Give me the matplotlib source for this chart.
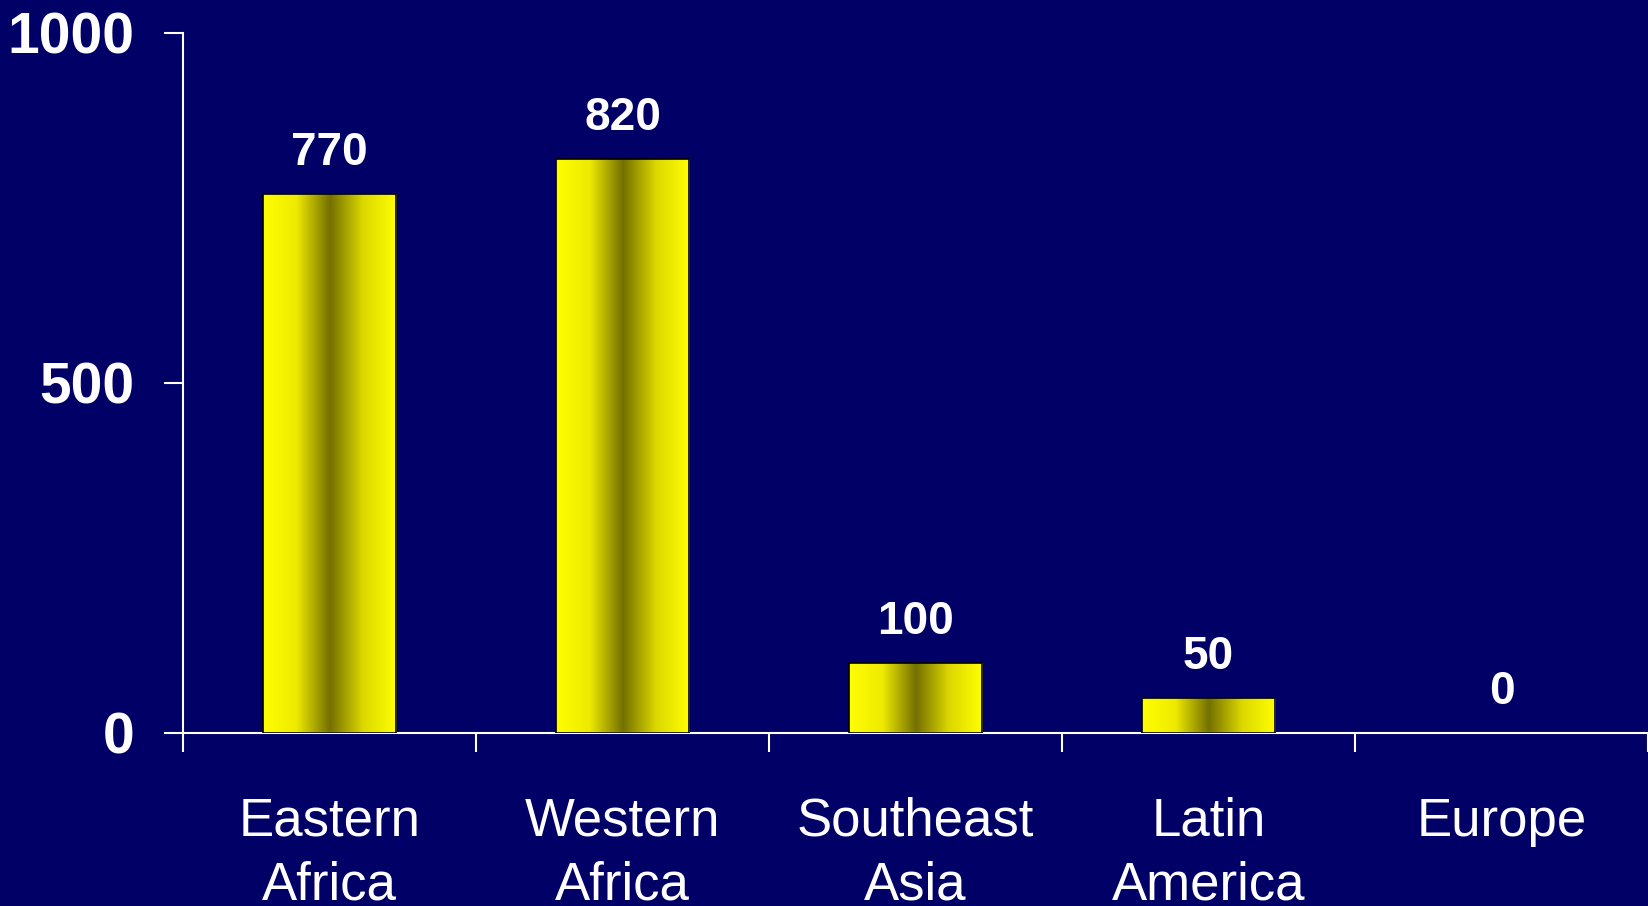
import matplotlib
matplotlib.use("Agg")
import matplotlib.pyplot as plt
import numpy as np
from matplotlib.colors import LinearSegmentedColormap

plt.rcParams["font.family"] = ["Liberation Sans", "DejaVu Sans"]

categories = ["Eastern\nAfrica", "Western\nAfrica", "Southeast\nAsia", "Latin\nAmerica", "Europe"]
values = [770, 820, 100, 50, 0]
yticks = [0, 500, 1000]

BG = "#000066"
bar_cmap = LinearSegmentedColormap.from_list(
    "bar", ["#ffff00", "#eeea00", "#747000", "#dcd800", "#ffff00"])

fig = plt.figure(figsize=(16.48, 9.06), dpi=100, facecolor=BG)
ax = fig.add_axes([0.111, 0.191, 0.889, 0.7726])
ax.set_facecolor(BG)

x = np.arange(len(categories))
width = 0.456
bars = ax.bar(x, values, width=width, color="none", edgecolor="black", linewidth=1.2, zorder=3)

# horizontal gradient fill clipped to each bar
grad = np.linspace(0, 1, 256).reshape(1, -1)
for b in bars:
    if b.get_height() <= 0:
        b.set_visible(False)
        continue
    x0, y0 = b.get_x(), b.get_y()
    im = ax.imshow(grad, cmap=bar_cmap, aspect="auto", interpolation="bilinear",
                   extent=[x0, x0 + b.get_width(), y0, y0 + b.get_height()], zorder=2)
    im.set_clip_path(b)

for xi, v in zip(x, values):
    ax.annotate(str(v), (xi, v), xytext=(0, 14), textcoords="offset points",
                ha="center", va="bottom", color="white", fontsize=33, fontweight="bold")

ax.set_xlim(-0.5, len(categories) - 0.5)
ax.set_ylim(0, 1000)

ax.set_yticks(yticks)
ax.set_yticklabels([str(t) for t in yticks], fontsize=41, fontweight="bold", color="white")
ax.tick_params(axis="y", length=14, width=1.5, color="white", pad=21, direction="out")

ax.set_xticks(np.arange(-0.5, len(categories), 1.0))
ax.set_xticklabels([])
ax.tick_params(axis="x", which="major", length=14, width=1.5, color="white", direction="out")
ax.set_xticks(x, minor=True)
ax.set_xticklabels(categories, minor=True, fontsize=38, color="white", linespacing=1.35)
ax.tick_params(axis="x", which="minor", length=0, pad=46)

for s in ["top", "right"]:
    ax.spines[s].set_visible(False)
for s in ["left", "bottom"]:
    ax.spines[s].set_color("white")
    ax.spines[s].set_linewidth(1.5)

fig.savefig("out.png", dpi=100, facecolor=BG)
